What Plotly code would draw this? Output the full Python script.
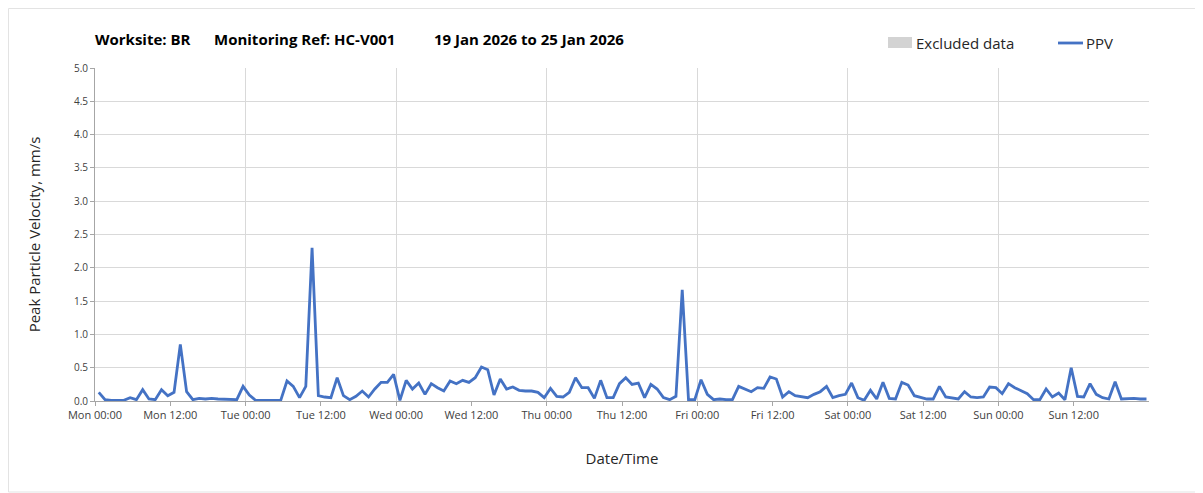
import pandas as pd
import plotly.graph_objects as go

# Hourly PPV readings, Mon 19 Jan 2026 to Sun 25 Jan 2026 (mm/s)
ppv = [
    0.13, 0.02, 0.01, 0.01, 0.01, 0.05, 0.02, 0.17, 0.03, 0.02, 0.17, 0.08, 0.13, 0.85,
    0.14, 0.02, 0.04, 0.03, 0.04, 0.03, 0.03, 0.03, 0.02, 0.22, 0.09, 0.01, 0.01, 0.01,
    0.01, 0.01, 0.30, 0.22, 0.05, 0.22, 2.30, 0.08, 0.06, 0.05, 0.35, 0.08, 0.02, 0.07,
    0.15, 0.06, 0.18, 0.28, 0.28, 0.40, 0.01, 0.31, 0.18, 0.27, 0.10, 0.26, 0.20, 0.15,
    0.30, 0.26, 0.31, 0.28, 0.35, 0.51, 0.47, 0.09, 0.33, 0.18, 0.21, 0.16, 0.15, 0.15,
    0.13, 0.05, 0.19, 0.07, 0.06, 0.13, 0.35, 0.20, 0.20, 0.04, 0.31, 0.05, 0.05, 0.26,
    0.35, 0.25, 0.27, 0.05, 0.25, 0.18, 0.05, 0.02, 0.07, 1.67, 0.02, 0.02, 0.32, 0.10,
    0.02, 0.03, 0.02, 0.02, 0.22, 0.18, 0.14, 0.20, 0.19, 0.36, 0.33, 0.06, 0.14, 0.08,
    0.06, 0.05, 0.10, 0.14, 0.22, 0.05, 0.08, 0.10, 0.27, 0.05, 0.01, 0.16, 0.03, 0.28,
    0.04, 0.03, 0.28, 0.24, 0.08, 0.05, 0.03, 0.03, 0.22, 0.06, 0.05, 0.03, 0.14, 0.06,
    0.05, 0.06, 0.21, 0.20, 0.11, 0.26, 0.20, 0.15, 0.11, 0.02, 0.02, 0.18, 0.06, 0.12,
    0.02, 0.50, 0.07, 0.06, 0.26, 0.10, 0.05, 0.03, 0.29, 0.03, 0.04, 0.04, 0.03, 0.03,
]
times = pd.date_range("2026-01-19 00:36", periods=len(ppv), freq="h")

tick_vals = pd.date_range("2026-01-19 00:00", periods=14, freq="12h")
tick_text = [
    "Mon 00:00", "Mon 12:00", "Tue 00:00", "Tue 12:00", "Wed 00:00", "Wed 12:00",
    "Thu 00:00", "Thu 12:00", "Fri 00:00", "Fri 12:00", "Sat 00:00", "Sat 12:00",
    "Sun 00:00", "Sun 12:00",
]
y_ticks = [0.0, 0.5, 1.0, 1.5, 2.0, 2.5, 3.0, 3.5, 4.0, 4.5, 5.0]

title_parts = ["Worksite: BR", "Monitoring Ref: HC-V001", "19 Jan 2026 to 25 Jan 2026"]
legend_labels = ["Excluded data", "PPV"]

FONT = "Open Sans"
BLUE = "#4472C4"
GRID = "#d9d9d9"

fig = go.Figure()
fig.add_trace(go.Scatter(
    x=times, y=ppv, mode="lines", name="PPV",
    line=dict(color=BLUE, width=2.8), showlegend=False,
))

# page body has an 8px margin: screen coords -> figure coords
OFF = 8
FIG_W, FIG_H = 1203 - OFF, 493 - OFF
L, R, T, B = 95, 1149, 68, 401          # plot area in screen coords
W, H = R - L, B - T
def px(x):
    return (x - L) / W
def py(y):
    return (B - y) / H

annotations = []
for txt, xp in zip(title_parts, [93, 212, 432]):
    annotations.append(dict(
        text=f"<b>{txt}</b>", x=px(xp), y=py(39), xref="paper", yref="paper",
        xanchor="left", yanchor="middle", showarrow=False,
        font=dict(family=FONT, size=15, color="#000000"),
    ))
annotations.append(dict(
    text=legend_labels[0], x=px(914), y=py(43), xref="paper", yref="paper",
    xanchor="left", yanchor="middle", showarrow=False,
    font=dict(family=FONT, size=15, color="#262626"),
))
annotations.append(dict(
    text=legend_labels[1], x=px(1084), y=py(43), xref="paper", yref="paper",
    xanchor="left", yanchor="middle", showarrow=False,
    font=dict(family=FONT, size=15, color="#262626"),
))

shapes = [
    dict(type="rect", xref="paper", yref="paper", x0=px(888), x1=px(912),
         y0=py(48), y1=py(37), fillcolor="#d3d3d3", line=dict(width=0)),
    dict(type="line", xref="paper", yref="paper", x0=px(1058), x1=px(1083),
         y0=py(43), y1=py(43), line=dict(color=BLUE, width=2.8)),
    dict(type="rect", xref="paper", yref="paper", x0=px(8.5), x1=px(1196),
         y0=py(492), y1=py(8.5), line=dict(color="#e3e3e3", width=1), layer="below"),
]

fig.update_layout(
    width=FIG_W, height=FIG_H,
    margin=dict(l=L - OFF, r=FIG_W - (R - OFF), t=T - OFF, b=FIG_H - (B - OFF)),
    paper_bgcolor="white", plot_bgcolor="white",
    font=dict(family=FONT, color="#404040"),
    annotations=annotations, shapes=shapes,
    showlegend=False,
    xaxis=dict(
        range=[pd.Timestamp("2026-01-19 00:00"), pd.Timestamp("2026-01-26 00:00")],
        tickmode="array", tickvals=tick_vals, ticktext=tick_text,
        ticks="outside", ticklen=4, tickcolor="#a6a6a6",
        tickfont=dict(family=FONT, size=11, color="#404040"),
        showgrid=False, showline=True, linecolor="#a6a6a6", linewidth=1,
        zeroline=False,
        minor=dict(tickmode="linear", tick0=pd.Timestamp("2026-01-19 00:00"),
                   dtick=86400000, showgrid=True, gridcolor=GRID, gridwidth=1, ticks=""),
        title=dict(text="Date/Time", font=dict(family=FONT, size=15, color="#262626"),
                   standoff=32),
    ),
    yaxis=dict(
        range=[0, 5], tickmode="array", tickvals=y_ticks,
        ticktext=[f"{v:.1f}" for v in y_ticks],
        ticks="outside", ticklen=4, tickcolor="#a6a6a6",
        tickfont=dict(family=FONT, size=10, color="#404040"),
        showgrid=True, gridcolor=GRID, gridwidth=1,
        showline=True, linecolor="#a6a6a6", linewidth=1, zeroline=False,
        title=dict(text="Peak Particle Velocity, mm/s",
                   font=dict(family=FONT, size=15, color="#262626"), standoff=29),
    ),
)

fig.write_html("out.html")
